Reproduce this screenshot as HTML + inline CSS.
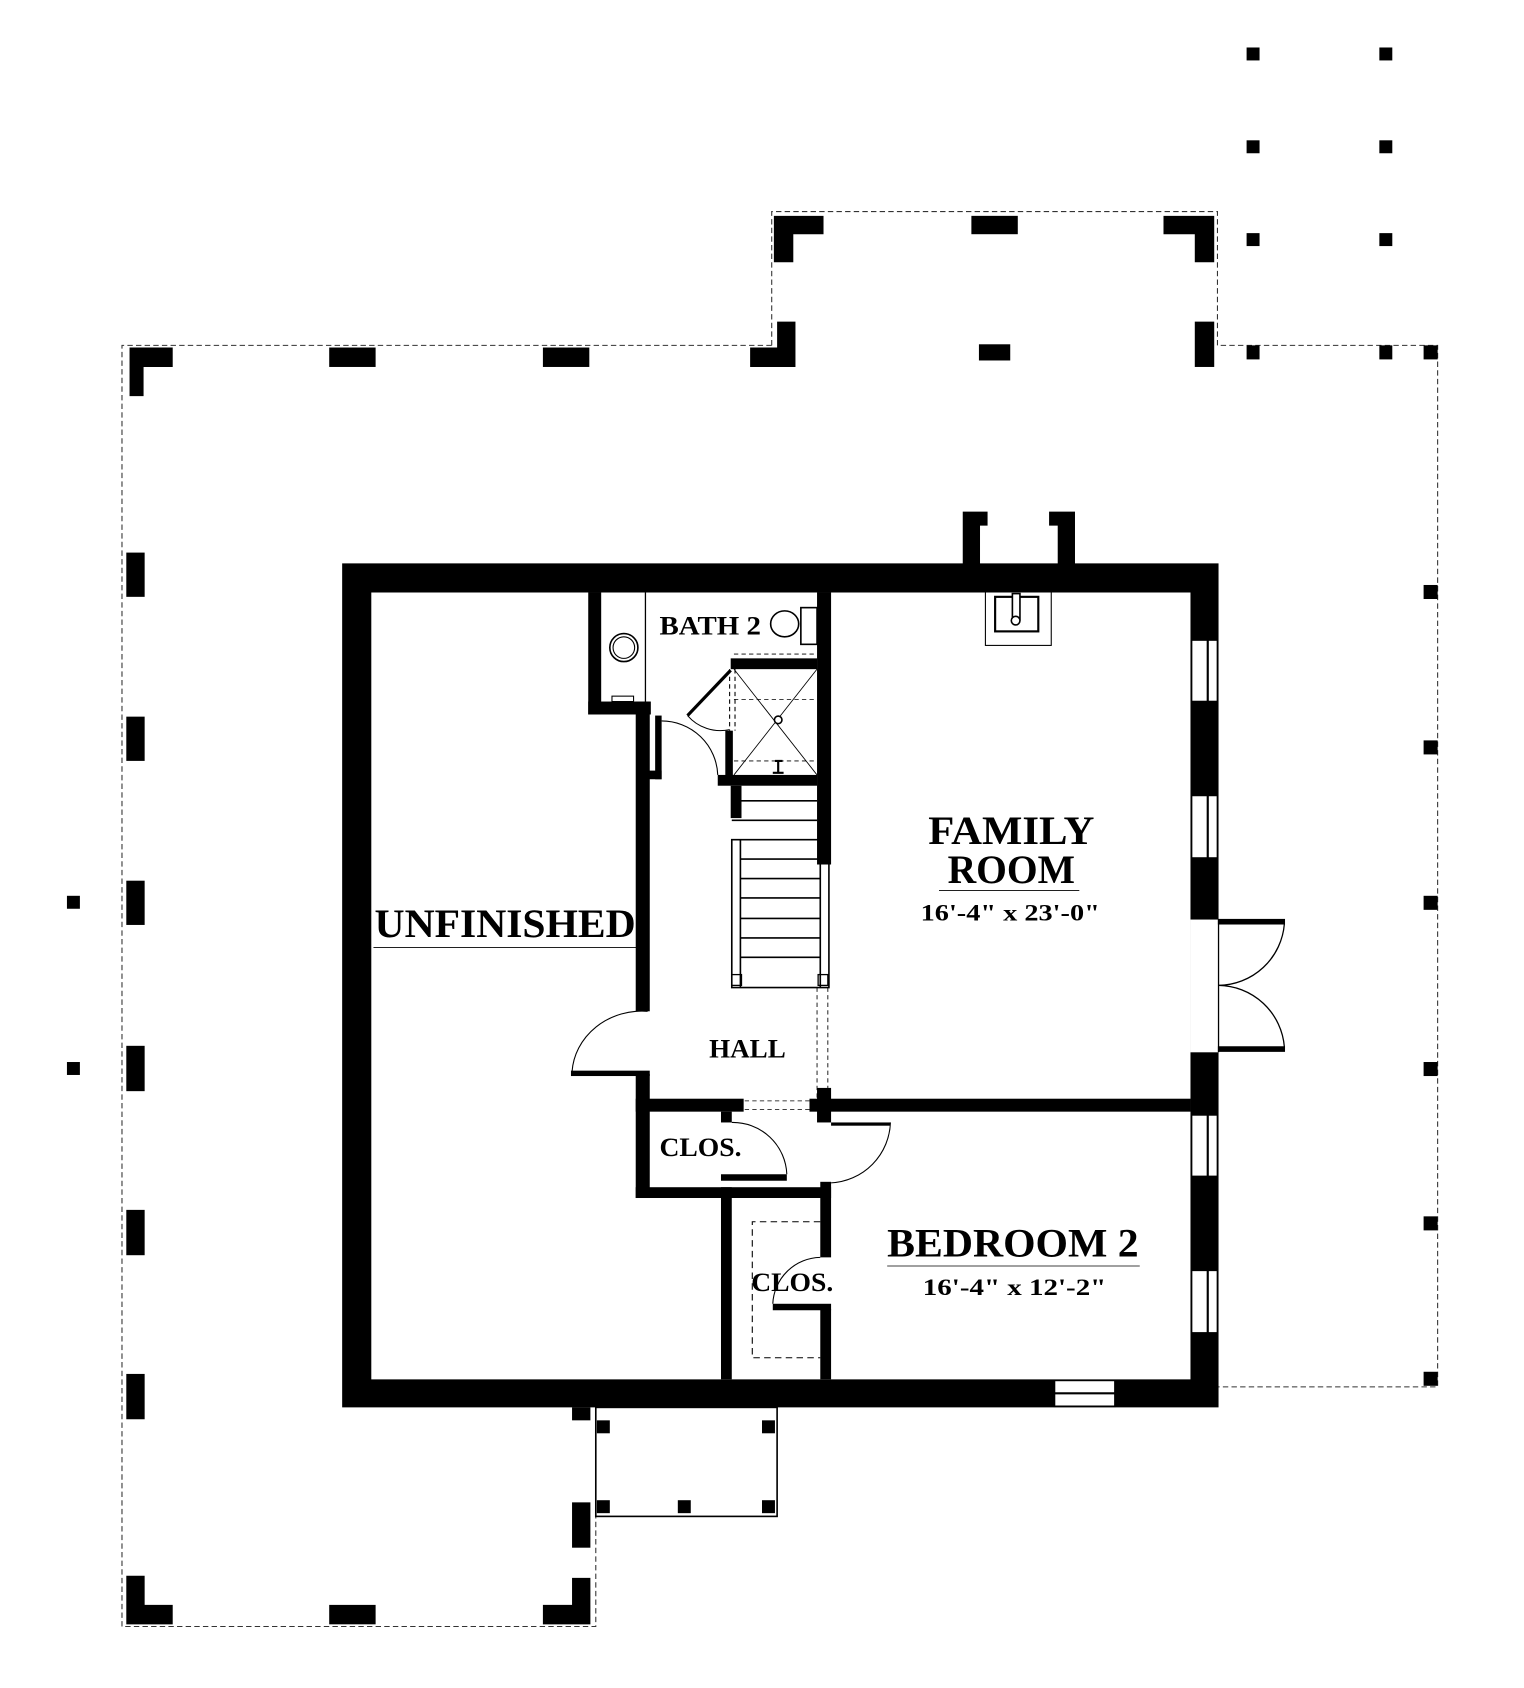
<!DOCTYPE html>
<html><head><meta charset="utf-8"><style>
html,body{margin:0;padding:0;background:#fff}
svg{display:block}
text{font-family:"Liberation Serif",serif;fill:#000;font-weight:bold}
</style></head><body>
<svg width="1524" height="1688" viewBox="0 0 1412 1564" xmlns="http://www.w3.org/2000/svg">
<rect width="1412" height="1564" fill="#fff"/>
<g fill="none" stroke="#333" stroke-width="1" stroke-dasharray="5,3">
<polyline points="715,320 113,320 113,1507 552,1507 552,1405"/>
<polyline points="715,320 715,196 1128,196 1128,320 1332,320 1332,1285 1129,1285"/>
</g>
<rect x="552" y="1304" width="168" height="101" fill="none" stroke="#000" stroke-width="1.5"/>
<g fill="#000">
<path d="M120,322h40v18h-27v27h-13z"/>
<rect x="305" y="322" width="43" height="18"/>
<rect x="503" y="322" width="43" height="18"/>
<path d="M695,322h42v18h-42z M720,298h17v42h-17z"/>
<path d="M717,200h46v17h-28v26h-18z"/>
<rect x="900" y="200" width="43" height="17"/>
<path d="M1078,200h47v43h-18v-26h-29z"/>
<rect x="1107" y="298" width="18" height="42"/>
<rect x="907" y="319" width="29" height="15"/>
<rect x="1155" y="44" width="12" height="12"/><rect x="1278" y="44" width="12" height="12"/>
<rect x="1155" y="130" width="12" height="12"/><rect x="1278" y="130" width="12" height="12"/>
<rect x="1155" y="216" width="12" height="12"/><rect x="1278" y="216" width="12" height="12"/>
<rect x="1155" y="320" width="12" height="13"/><rect x="1278" y="320" width="12" height="13"/>
<rect x="1319" y="320" width="13" height="13"/>
<rect x="1319" y="542" width="13" height="13"/>
<rect x="1319" y="686" width="13" height="13"/>
<rect x="1319" y="830" width="13" height="13"/>
<rect x="1319" y="984" width="13" height="13"/>
<rect x="1319" y="1127" width="13" height="13"/>
<rect x="1319" y="1271" width="13" height="13"/>
<rect x="117" y="512" width="17" height="41"/>
<rect x="117" y="664" width="17" height="41"/>
<rect x="117" y="816" width="17" height="41"/>
<rect x="117" y="969" width="17" height="42"/>
<rect x="117" y="1121" width="17" height="42"/>
<rect x="117" y="1273" width="17" height="42"/>
<rect x="62" y="830" width="12" height="12"/>
<rect x="62" y="984" width="12" height="12"/>
<path d="M117,1460h17v27h26v18h-43z"/>
<rect x="305" y="1487" width="43" height="18"/>
<path d="M503,1487h27v-25h17v43h-44z"/>
<rect x="530" y="1392" width="17" height="42"/>
<rect x="530" y="1304" width="17" height="12"/>
<rect x="553" y="1316" width="12" height="12"/>
<rect x="706" y="1316" width="12" height="12"/>
<rect x="553" y="1390" width="12" height="12"/>
<rect x="628" y="1390" width="12" height="12"/>
<rect x="706" y="1390" width="12" height="12"/>
</g>
<g fill="#000">
<path d="M892,474h23v13h-7v36h-16z"/>
<path d="M972,474h24v49h-16v-36h-8z"/>
</g>
<path fill="#000" fill-rule="evenodd" d="M317,522H1129V1304H317Z M344,549V1278H1103V549Z"/>
<g fill="#fff" stroke="#000" stroke-width="1.5">
<rect x="1104" y="593" width="24" height="57"/>
<rect x="1104" y="737" width="24" height="58"/>
<rect x="1104" y="1033" width="24" height="57"/>
<rect x="1104" y="1177" width="24" height="58"/>
<rect x="977" y="1279" width="56" height="24"/>
</g>
<g stroke="#000" stroke-width="2">
<line x1="1119" y1="593" x2="1119" y2="650"/><line x1="1119" y1="737" x2="1119" y2="795"/>
<line x1="1119" y1="1033" x2="1119" y2="1090"/><line x1="1119" y1="1177" x2="1119" y2="1235"/>
<line x1="977" y1="1291" x2="1033" y2="1291"/>
</g>
<rect x="1103" y="852" width="26" height="123" fill="#fff"/>
<g fill="none" stroke="#000" stroke-width="1.2">
<line x1="1129" y1="852" x2="1129" y2="975"/>
<rect x="1129" y="852" width="61" height="4" fill="#000"/>
<rect x="1129" y="970" width="61" height="4" fill="#000"/>
<path d="M1190,856 A62,62 0 0 1 1129,913"/>
<path d="M1190,970 A62,62 0 0 0 1129,913"/>
</g>
<g fill="none" stroke="#000">
<rect x="913" y="548" width="61" height="50" stroke-width="1"/>
<rect x="922" y="553" width="40" height="32" stroke-width="2"/>
<rect x="938" y="550" width="7" height="24" stroke-width="1.5" fill="#fff"/>
<circle cx="941" cy="575" r="4" stroke-width="1.5" fill="#fff"/>
</g>
<g fill="#000">
<rect x="545" y="549" width="12" height="113"/>
<rect x="545" y="650" width="58" height="12"/>
<rect x="589" y="650" width="13" height="287"/>
<rect x="589" y="995" width="13" height="115"/>
<rect x="529" y="992" width="73" height="5"/>
<rect x="757" y="549" width="13" height="252"/>
<rect x="607" y="663" width="6" height="59"/>
<rect x="600" y="714" width="13" height="8"/>
<rect x="677" y="610" width="80" height="10"/>
<rect x="672" y="677" width="7" height="45"/>
<rect x="665" y="718" width="92" height="10"/>
<rect x="677" y="728" width="10" height="30"/>
<rect x="589" y="1018" width="100" height="12"/>
<rect x="750" y="1018" width="353" height="12"/>
<rect x="757" y="1008" width="13" height="32"/>
<rect x="668" y="1030" width="10" height="10"/>
<rect x="589" y="1100" width="181" height="10"/>
<rect x="668" y="1088" width="61" height="6"/>
<rect x="668" y="1100" width="10" height="178"/>
<rect x="760" y="1095" width="10" height="70"/>
<rect x="760" y="1213" width="10" height="65"/>
<rect x="716" y="1208" width="54" height="6"/>
<rect x="770" y="1040" width="55" height="3"/>
</g>
<g fill="none" stroke="#000" stroke-width="1">
<path d="M600,937 A65,60 0 0 0 530,993"/>
<path d="M613,668 A52,52 0 0 1 665,718"/>
<path d="M637,663 A40,40 0 0 0 676,676"/>
<path d="M678,1040 A50,50 0 0 1 729,1088"/>
<path d="M825,1040 A58,58 0 0 1 770,1096"/>
<path d="M760,1165 A45,45 0 0 0 716,1208"/>
<line x1="676" y1="620" x2="676" y2="677" stroke-dasharray="4,3"/>
<line x1="681" y1="620" x2="681" y2="677" stroke-dasharray="4,3"/>
</g>
<line x1="637" y1="663" x2="677" y2="621" stroke="#000" stroke-width="3"/>
<line x1="598" y1="549" x2="598" y2="650" stroke="#000" stroke-width="1.2"/>
<circle cx="578" cy="600" r="13" fill="none" stroke="#000" stroke-width="1.5"/>
<circle cx="578" cy="600" r="10" fill="none" stroke="#000" stroke-width="1"/>
<rect x="567" y="645" width="20" height="5" fill="none" stroke="#000" stroke-width="1"/>
<ellipse cx="727" cy="578" rx="13" ry="12" fill="none" stroke="#000" stroke-width="1.5"/>
<rect x="742" y="563" width="15" height="34" fill="none" stroke="#000" stroke-width="1.5"/>
<g stroke="#000" stroke-width="0.8" fill="none">
<line x1="680" y1="620" x2="757" y2="718"/>
<line x1="757" y1="620" x2="680" y2="718"/>
<line x1="680" y1="648" x2="757" y2="648" stroke-dasharray="4,3"/>
<line x1="680" y1="705" x2="757" y2="705" stroke-dasharray="4,3"/>
<line x1="680" y1="606" x2="757" y2="606" stroke-dasharray="4,3"/>
</g>
<circle cx="721" cy="667" r="3.5" fill="#fff" stroke="#000" stroke-width="1.5"/>
<path d="M718,705h7M721,705v12M716,716h10" stroke="#000" stroke-width="2"/>
<g stroke="#000" fill="none">
<line x1="687" y1="742" x2="757" y2="742" stroke-width="1.5"/>
<line x1="678" y1="760" x2="757" y2="760" stroke-width="1.5"/>
<rect x="678" y="778" width="90" height="137" stroke-width="1.5"/>
<line x1="686" y1="778" x2="686" y2="915" stroke-width="1.5"/>
<line x1="760" y1="800" x2="760" y2="915" stroke-width="1.5"/>
<g stroke-width="1.5">
<line x1="686" y1="796" x2="760" y2="796"/><line x1="686" y1="814" x2="760" y2="814"/>
<line x1="686" y1="832" x2="760" y2="832"/><line x1="686" y1="851" x2="760" y2="851"/>
<line x1="686" y1="869" x2="760" y2="869"/><line x1="686" y1="887" x2="760" y2="887"/>
</g>
<rect x="678" y="903" width="9" height="10" stroke-width="1.2"/>
<rect x="758" y="903" width="9" height="10" stroke-width="1.2"/>
<g stroke-dasharray="4,3" stroke-width="0.8">
<line x1="757" y1="915" x2="757" y2="1018"/>
<line x1="767" y1="915" x2="767" y2="1018"/>
<line x1="690" y1="1020" x2="750" y2="1020"/>
<line x1="690" y1="1028" x2="750" y2="1028"/>
</g>
</g>
<path d="M760,1132H697V1258H760" fill="none" stroke="#000" stroke-width="1" stroke-dasharray="6,4"/>
<text x="347" y="868" font-size="37" textLength="242" lengthAdjust="spacingAndGlyphs">UNFINISHED</text>
<line x1="346" y1="878" x2="590" y2="878" stroke="#000" stroke-width="0.8"/>
<text x="860" y="782" font-size="37" textLength="154" lengthAdjust="spacingAndGlyphs">FAMILY</text>
<text x="878" y="818" font-size="37" textLength="118" lengthAdjust="spacingAndGlyphs">ROOM</text>
<line x1="870" y1="825" x2="1000" y2="825" stroke="#000" stroke-width="0.8"/>
<text x="853" y="853" font-size="22" textLength="166" lengthAdjust="spacingAndGlyphs">16'-4" x 23'-0"</text>
<text x="822" y="1164" font-size="37" textLength="233" lengthAdjust="spacingAndGlyphs">BEDROOM 2</text>
<line x1="822" y1="1173" x2="1056" y2="1173" stroke="#000" stroke-width="0.8"/>
<text x="855" y="1200" font-size="22" textLength="170" lengthAdjust="spacingAndGlyphs">16'-4" x 12'-2"</text>
<text x="657" y="980" font-size="24" textLength="71" lengthAdjust="spacingAndGlyphs">HALL</text>
<text x="611" y="588" font-size="24" textLength="94" lengthAdjust="spacingAndGlyphs">BATH 2</text>
<text x="611" y="1071" font-size="24" textLength="76" lengthAdjust="spacingAndGlyphs">CLOS.</text>
<text x="696" y="1196" font-size="24" textLength="76" lengthAdjust="spacingAndGlyphs">CLOS.</text>
</svg>
</body></html>
